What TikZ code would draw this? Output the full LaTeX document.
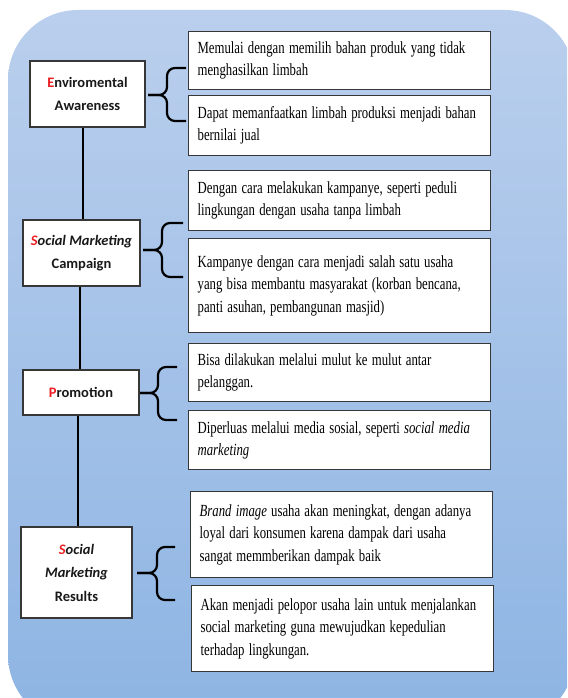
\documentclass[tikz,border=0pt]{standalone}
\usepackage{fontspec}
\usepackage{graphicx}
\setmainfont{Liberation Serif}
\newfontfamily\labelfont{Carlito}
\usetikzlibrary{calc}
\definecolor{bgtop}{RGB}{186,207,237}
\definecolor{bgbot}{RGB}{141,180,227}
\definecolor{frame}{RGB}{55,55,55}
\definecolor{initial}{RGB}{235,30,35}
\definecolor{labeltext}{RGB}{25,25,25}
\newcommand\mybrace[6]{%
  \draw[bracepath] (#3,#4) -- (#2,#4) -- (#2,#5) -- (#1,#5);
  \draw[bracepath] (#3,#6) -- (#2,#6) -- (#2,#5) -- (#1,#5);}
\newcommand\sq[1]{\scalebox{0.75}[1]{#1}}
\begin{document}
\begin{tikzpicture}[x=1pt,y=-1pt,
  leftbox/.style={draw=frame, line width=1.3pt, fill=white, align=center,
    text=labeltext, font=\labelfont\bfseries\fontsize{14.5}{23.5}\selectfont, inner sep=0pt},
  rightbox/.style={draw=frame, line width=1.3pt, fill=white, align=left,
    text width=284pt, inner xsep=9pt, inner ysep=0pt,
    font=\fontsize{17}{22.3}\selectfont, anchor=north west},
  link/.style={line width=1.5pt},
  bracepath/.style={line width=2.2pt, rounded corners=8pt}]

\useasboundingbox (0,0) rectangle (567,698);
\begin{scope}
\clip (0,0) rectangle (567,698);
\shade[top color=bgtop, bottom color=bgbot, rounded corners=70pt] (8,10) rectangle (575,725);
\end{scope}

% left boxes
\node[leftbox, minimum width=115pt, minimum height=66pt] (env) at (87.5,94)
  {{\color{initial}E}nviromental\\Awareness};
\node[leftbox, minimum width=117pt, minimum height=66pt] (smc) at (81.5,253)
  {\itshape{\color{initial}S}ocial Marketing\\Campaign};
\node[leftbox, minimum width=116pt, minimum height=45pt] (promo) at (81,392.5)
  {{\color{initial}P}romotion};
\node[leftbox, minimum width=111pt, minimum height=91pt] (smr) at (76.5,572.5)
  {{\itshape\color{initial}S}{\itshape ocial}\\{\itshape Marketing}\\Results};

% right boxes
\node[rightbox, minimum height=58pt] (r1) at (188,31)
  {\sq{Memulai dengan memilih bahan produk yang tidak}\\\sq{menghasilkan limbah}};
\node[rightbox, minimum height=60pt] (r2) at (188,95)
  {\sq{Dapat memanfaatkan limbah produksi menjadi bahan}\\\sq{bernilai jual}};
\node[rightbox, minimum height=60pt] (r3) at (188,170)
  {\sq{Dengan cara melakukan kampanye, seperti peduli}\\\sq{lingkungan dengan usaha tanpa limbah}};
\node[rightbox, minimum height=94pt] (r4) at (188,238)
  {\sq{Kampanye dengan cara menjadi salah satu usaha}\\\sq{yang bisa membantu masyarakat (korban bencana,}\\\sq{panti asuhan, pembangunan masjid)}\\[4pt]};
\node[rightbox, minimum height=58pt] (r5) at (188,343)
  {\sq{Bisa dilakukan melalui mulut ke mulut antar}\\\sq{pelanggan.}};
\node[rightbox, minimum height=59pt] (r6) at (188,410)
  {\sq{Diperluas melalui media sosial, seperti \textit{social media}}\\\sq{\textit{marketing}}};
\node[rightbox, minimum height=86pt] (r7) at (190,491)
  {\sq{\textit{Brand image} usaha akan meningkat, dengan adanya}\\\sq{loyal dari konsumen karena dampak dari usaha}\\\sq{sangat memmberikan dampak baik}};
\node[rightbox, minimum height=86pt] (r8) at (191,585)
  {\sq{Akan menjadi pelopor usaha lain untuk menjalankan}\\\sq{social marketing guna mewujudkan kepedulian}\\\sq{terhadap lingkungan.}};

% vertical connectors
\coordinate (c1) at (83,0);
\coordinate (c2) at (80,0);
\coordinate (c3) at (78,0);
\draw[link] (env.south -| c1) -- (smc.north -| c1);
\draw[link] (smc.south -| c2) -- (promo.north -| c2);
\draw[link] (promo.south -| c3) -- (smr.north -| c3);

% braces
\mybrace{148}{167}{186}{68}{95}{121}
\mybrace{143}{162}{183}{223}{250}{277}
\mybrace{140}{158}{177}{367}{393}{420}
\mybrace{137}{157}{175}{547}{573}{600}
\end{tikzpicture}
\end{document}
